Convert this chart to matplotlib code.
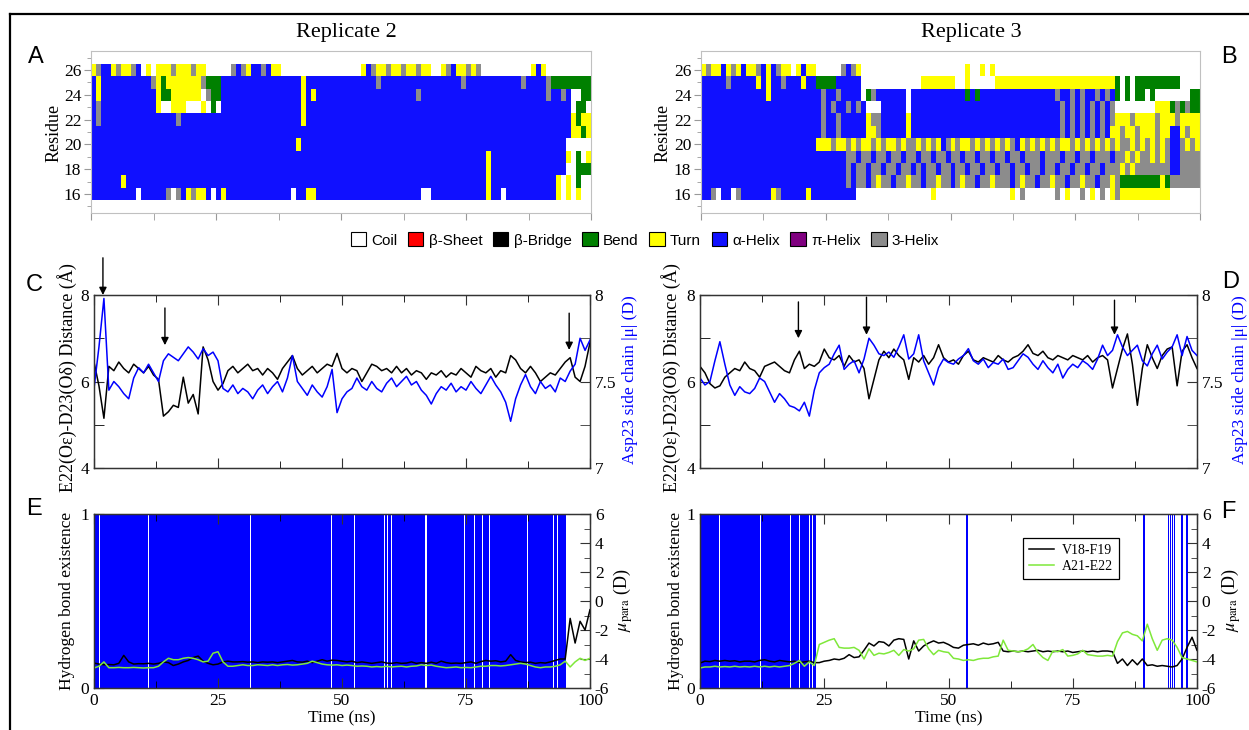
import numpy as np
import matplotlib
matplotlib.use('Agg')
import matplotlib.pyplot as plt
from matplotlib.colors import ListedColormap
from matplotlib.patches import Patch
from matplotlib.lines import Line2D
from matplotlib.ticker import MultipleLocator, FixedLocator, FormatStrFormatter

plt.rcParams['font.family'] = ['Liberation Serif', 'DejaVu Serif']
plt.rcParams['mathtext.fontset'] = 'stix'
plt.rcParams['axes.unicode_minus'] = False

# ---------------- DSSP data (one char per 1 ns, residues 16..26) ----------------
ss_codes = ['C', 'E', 'B', 'S', 'T', 'H', 'I', 'G']
ss_labels = ['Coil', 'β-Sheet', 'β-Bridge', 'Bend', 'Turn', 'α-Helix', 'π-Helix', '3-Helix']
ss_colors = ['#FFFFFF', '#FF0000', '#000000', '#008000', '#FFFF00', '#1010FF', '#800080', '#8C8C8C']
residues = [16, 17, 18, 19, 20, 21, 22, 23, 24, 25, 26]

rep2_ss = {
    26: "TGHHTGTTGH CTCTTTGTTT GTTCCCCCGH GTHHGHTTCC CCCCCCCCCC CCCCTHGTTG TTGTTGTTCC TGHTTGTGCC CCCCCCCCTH TCCCCCCCCC",
    25: "HTHHHHHHHH HHGTSTTTTT TTGSSSHHHH HHHHHHHHHH HHTHHHHHHH HHHHHHHGHH HHHHHHHHHH HHHHGHHHHH HHHHHHGHHH HGSSSSSSSS",
    24: "HTHHHHHHHH HHHTSSTTTT TTCGSSHHHH HHHHHHHHHH HHTHTHHHHH HHHHHHHHHH HHHHHGHHHH HHHHHHHHHH HHHHHHHHHH HGHHGHCCSS",
    23: "HGHHHHHHHH HHHTCCTTTC CCTCSCHHHH HHHHHHHHHH HHTHHHHHHH HHHHHHHHHH HHHHHHHHHH HHHHHHHHHH HHHHHHHHHH HHHHHHCSSC",
    22: "HGHHHHHHHH HHHHHHHGHH HHHHHHHHHH HHHHHHHHHH HHTHHHHHHH HHHHHHHHHH HHHHHHHHHH HHHHHHHHHH HHHHHHHHHH HHHHHHTSTT",
    21: "HHHHHHHHHH HHHHHHHHHH HHHHHHHHHH HHHHHHHHHH HHHHHHHHHH HHHHHHHHHH HHHHHHHHHH HHHHHHHHHH HHHHHHHHHH HHHHHHTTST",
    20: "HHHHHHHHHH HHHHHHHHHH HHHHHHHHHH HHHHHHHHHH HTHHHHHHHH HHHHHHHHHH HHHHHHHHHH HHHHHHHHHH HHHHHHHHHH HHHHHCCCCC",
    19: "HHHHHHHHHH HHHHHHHHHH HHHHHHHHHH HHHHHHHHHH HHHHHHHHHH HHHHHHHHHH HHHHHHHHHH HHHHHHHHHT HHHHHHHHHH HHHHHTCSCT",
    18: "HHHHHHHHHH HHHHHHHHHH HHHHHHHHHH HHHHHHHHHH HHHHHHHHHH HHHHHHHHHH HHHHHHHHHH HHHHHHHHHT HHHHHHHHHH HHHHHCCSSS",
    17: "HHHHHHTHHH HHHHHHHHHH HHHHHHHHHH HHHHHHHHHH HHHHHHHHHH HHHHHHHHHH HHHHHHHHHH HHHHHHHHHT HHHHHHHHHH HHHTCTCSCC",
    16: "HHHHHHHHHC HHHHHGCGHT GTTHCHTHHH HHHHHHHHHH CHHTTHHHHH HHHHHHHHHH HHHHHHCCHH HHHHHHHHHT HHCHHHHHHH HHHTCTCTCC",
}
rep3_ss = {
    26: "TGTTHTGTHT TGHTHGTTCT HTTCCCCCGH GTCCCCCCCC CCCCCCCCCC CCCTCCTCTC CCCCCCCCCC CCCCCCCCCC CCCCCCCCCC CCCCCCCCCC",
    25: "HHHHHGHHHH HTHTHHGHHH THHSSSSHHH HHCCCCCCCC CCCCTTTTTT TCCTCCCCCT TTTTTTTTTT TTTTTTTTTT TTTSCSCSSS SSSSSSCCCC",
    24: "HHHHHHHHHH HHHTHHHHHH HHHHGHHGHH HHCSGHHHHH HCHHHHHHHH HHHSHSHHHH HHHHHHHHHH HGHHGHGHHG HGHSCSCSSC SCCCCCCCSS",
    23: "HHHHHHHHHH HHHHHHHHHH HHHHGHGHHG HGHCCCHHHH HCHHHHHHHH HHHHHHHHHH HHHHHHHHHH HHGHGHGHGH GHGCCCCCCC CTTTSGSGSS",
    22: "HHHHHHHHHH HHHHHHHHHH HHHHGHHGHH HHHTGGHHHH HTHHHHHHHH HHHHHHHHHH HHHHHHHHHH HHGHGHGHGH GHGTTTGTTT TGTTTGTTTT",
    21: "HHHHHHHHHH HHHHHHHHHH HHHHGHHGHH HHHTTGHHHH HTHHHHHHHH HHHHHHHHHH HHHHHHHHHH HHGHGHGHGH GHTTGTTGTT TGTTHHTGTT",
    20: "HHHHHHHHHH HHHHHHHHHH HHHTTTGTTG TGTTGTGTTG TGGTGTGTHG TGTTGTGTGT GTGHTGTGTG TGTTGTGTGT GTGTGGTGTG TGTGHHGTGT",
    19: "HHHHHHHHHH HHHHHHHHHH HHHHHHHHHG GHGGHGGHGG HGGHGGHGGH GGHGGHGGHG GHGGHGGGHG GGHGGHGGHG GGHGGTGTGG TGTGHHGGGG",
    18: "HHHHHHHHHH HHHHHHHHHH HHHHHHHHHG HGGHGGHGGH GGHGHGGHGG HGGHGGHGGH GGHGGHGGHG GHGGHGGHGG HGGGTGTGGG GGGGHHGGGG",
    17: "HHHHHHHHHH HHHHHHHHHH HHHHHHHHHG HGGHGTGGHG GTGGHGGTGG HGTGGHGGTG GGHGTGGHGG TGGHGGTGGH GGTGSSSSSS SSTSGGGGGG",
    16: "HHGCHHCGHH HHHHTGHHHH HTHHHHHHHH HCCCCCCCCC CCCCCCTCCC CCCCCCCCCC CCTCGCCCCC CGCTCCGCTC GCTGTTTTTT TTTTCCCCCC",
}

# ---------------- time series (1 ns sampling) ----------------
time_ns = np.arange(0, 101)

c_dist = [6.45, 5.9, 5.15, 6.35, 6.25, 6.45, 6.3, 6.2, 6.4, 6.3,
          6.2, 6.35, 6.15, 6.05, 5.2, 5.3, 5.45, 5.4, 6.1, 5.5,
          5.7, 5.25, 6.8, 6.5, 6.0, 5.8, 5.95, 6.25, 6.35, 6.2,
          6.3, 6.4, 6.25, 6.3, 6.15, 6.3, 6.2, 6.05, 6.3, 6.45,
          6.6, 6.3, 6.15, 6.25, 6.35, 6.2, 6.3, 6.4, 6.35, 6.65,
          6.3, 6.2, 6.3, 6.25, 6.0, 6.2, 6.4, 6.35, 6.25, 6.3,
          6.2, 6.35, 6.2, 6.3, 6.15, 6.25, 6.2, 6.05, 6.2, 6.15,
          6.25, 6.1, 6.2, 6.15, 6.3, 6.2, 6.1, 6.35, 6.25, 6.2,
          6.3, 6.1, 6.25, 6.2, 6.6, 6.5, 6.3, 6.2, 6.35, 6.2,
          6.0, 6.1, 6.2, 6.15, 6.3, 6.45, 6.55, 6.1, 6.0, 6.35, 6.9]
c_mu = [7.46, 7.7, 7.98, 7.45, 7.5, 7.47, 7.43, 7.4, 7.52, 7.58,
        7.55, 7.6, 7.55, 7.5, 7.62, 7.66, 7.64, 7.62, 7.66, 7.7,
        7.67, 7.63, 7.69, 7.65, 7.67, 7.62, 7.46, 7.44, 7.48, 7.43,
        7.46, 7.44, 7.4, 7.45, 7.48, 7.43, 7.47, 7.5, 7.44, 7.52,
        7.65, 7.5, 7.46, 7.42, 7.48, 7.44, 7.41, 7.47, 7.57, 7.32,
        7.4, 7.44, 7.46, 7.52, 7.47, 7.45, 7.5, 7.46, 7.44, 7.49,
        7.52, 7.47, 7.5, 7.53, 7.48, 7.5, 7.45, 7.42, 7.37, 7.43,
        7.47, 7.45, 7.49, 7.44, 7.47, 7.45, 7.5, 7.46, 7.43, 7.48,
        7.53, 7.48, 7.44, 7.38, 7.27, 7.4, 7.48, 7.54, 7.47, 7.43,
        7.5, 7.46, 7.48, 7.44, 7.52, 7.5, 7.56, 7.6, 7.75, 7.68, 7.74]
d_dist = [6.35, 6.2, 5.95, 5.85, 5.9, 6.1, 6.2, 6.3, 6.25, 6.45,
          6.3, 6.25, 6.1, 6.35, 6.4, 6.45, 6.35, 6.25, 6.2, 6.5,
          6.7, 6.3, 6.4, 6.35, 6.45, 6.75, 6.55, 6.5, 6.6, 6.35,
          6.6, 6.45, 6.5, 6.3, 5.6, 6.05, 6.5, 6.7, 6.55, 6.75,
          6.6, 6.5, 6.05, 6.55, 6.45, 6.6, 6.4, 6.55, 6.85, 6.55,
          6.45, 6.5, 6.4, 6.6, 6.7, 6.5, 6.45, 6.55, 6.5, 6.45,
          6.6, 6.5, 6.45, 6.55, 6.6, 6.7, 6.85, 6.65, 6.6, 6.7,
          6.55, 6.5, 6.6, 6.55, 6.5, 6.6, 6.55, 6.5, 6.6, 6.45,
          6.55, 6.6, 6.5, 5.85, 6.3, 6.75, 7.1, 6.4, 5.45, 6.3,
          6.85, 6.55, 6.3, 6.6, 6.75, 6.8, 5.9, 6.7, 6.85, 6.55, 6.3]
d_mu = [7.52, 7.48, 7.5, 7.62, 7.73, 7.6, 7.48, 7.42, 7.47, 7.44,
        7.43, 7.46, 7.52, 7.5, 7.44, 7.38, 7.43, 7.4, 7.36, 7.35,
        7.33, 7.38, 7.3, 7.45, 7.55, 7.58, 7.6, 7.66, 7.71, 7.57,
        7.6, 7.62, 7.55, 7.63, 7.75, 7.71, 7.66, 7.65, 7.67, 7.64,
        7.7, 7.77, 7.63, 7.66, 7.77, 7.62, 7.55, 7.48, 7.58, 7.63,
        7.61, 7.6, 7.63, 7.65, 7.69, 7.62, 7.6, 7.63, 7.58, 7.61,
        7.6, 7.63, 7.57, 7.58, 7.62, 7.66, 7.64, 7.6, 7.57, 7.62,
        7.58, 7.55, 7.6, 7.52, 7.57, 7.6, 7.58, 7.62, 7.6, 7.57,
        7.63, 7.71, 7.65, 7.68, 7.77, 7.7, 7.65, 7.68, 7.71, 7.62,
        7.59, 7.66, 7.71, 7.63, 7.67, 7.7, 7.77, 7.65, 7.76, 7.68, 7.65]
# arrows marking events (time, tip and tail on the distance axis)
c_arrow_t = [1.8, 14.3, 95.8]
c_arrow_tip = [8.0, 6.84, 6.73]
c_arrow_tail = [8.86, 7.7, 7.58]
d_arrow_t = [19.8, 33.5, 83.4]
d_arrow_tip = [7.0, 7.08, 7.08]
d_arrow_tail = [7.84, 7.95, 7.88]

e_v18f19 = [-4.28, -4.35, -4.4, -4.38, -4.4, -4.3, -3.75, -4.2, -4.35, -4.32,
            -4.33, -4.3, -4.35, -4.3, -4.2, -4.25, -4.45, -4.35, -4.2, -4.1,
            -3.9, -3.8, -4.15, -4.3, -4.4, -4.35, -4.2, -4.15, -4.2, -4.2,
            -4.18, -4.22, -4.2, -4.25, -4.2, -4.22, -4.2, -4.25, -4.2, -4.15,
            -4.1, -4.2, -4.22, -4.15, -4.25, -4.15, -4.05, -4.15, -4.08, -4.1,
            -4.15, -4.2, -4.15, -4.25, -4.2, -4.25, -4.3, -4.25, -4.2, -4.28,
            -4.3, -4.25, -4.3, -4.28, -4.2, -4.3, -4.25, -4.3, -4.22, -4.3,
            -4.15, -4.25, -4.3, -4.28, -4.3, -4.25, -4.2, -4.3, -4.18, -4.1,
            -4.15, -4.12, -4.2, -4.15, -3.7, -4.1, -4.2, -4.25, -4.22, -4.3,
            -4.25, -4.28, -4.2, -4.1, -4.0, -4.0, -1.2, -2.9, -1.4, -2.0, -0.6]
e_a21e22 = [-4.62, -4.5, -4.2, -4.6, -4.6, -4.58, -4.6, -4.6, -4.58, -4.6,
            -4.62, -4.6, -4.6, -4.5, -4.2, -3.95, -4.05, -4.05, -3.95, -3.9,
            -3.95, -4.05, -4.2, -4.15, -3.6, -3.5, -4.2, -4.5, -4.5, -4.45,
            -4.4, -4.45, -4.45, -4.4, -4.42, -4.45, -4.4, -4.45, -4.4, -4.38,
            -4.42, -4.4, -4.35, -4.3, -4.15, -4.25, -4.35, -4.4, -4.42, -4.4,
            -4.45, -4.42, -4.45, -4.5, -4.48, -4.5, -4.55, -4.52, -4.55, -4.5,
            -4.55, -4.52, -4.5, -4.55, -4.5, -4.48, -4.4, -4.45, -4.42, -4.5,
            -4.55, -4.6, -4.58, -4.55, -4.6, -4.58, -4.6, -4.55, -4.5, -4.5,
            -4.45, -4.45, -4.48, -4.45, -4.4, -4.35, -4.3, -4.35, -4.45, -4.55,
            -4.6, -4.55, -4.55, -4.5, -4.4, -4.15, -4.55, -4.2, -3.95, -4.1, -3.95]
f_v18f19 = [-4.28, -4.15, -4.18, -4.1, -4.15, -4.1, -4.15, -4.12, -4.2, -4.15,
            -4.15, -4.2, -4.1, -4.05, -4.15, -4.2, -4.1, -4.15, -4.2, -4.15,
            -4.25, -4.2, -4.15, -4.25, -4.25, -4.15, -4.1, -4.0, -4.05, -3.95,
            -3.7, -3.9, -3.85, -3.4, -2.9, -3.1, -2.8, -2.85, -3.1, -2.7,
            -2.6, -2.65, -4.0, -2.75, -3.45, -3.1, -2.9, -2.75, -2.9, -2.85,
            -3.0, -3.2, -3.25, -3.05, -3.0, -2.95, -3.05, -2.9, -3.0, -2.95,
            -2.85, -3.45, -3.5, -3.45, -3.5, -3.45, -3.5, -3.45, -3.4, -3.5,
            -3.45, -3.5, -3.45, -3.5, -3.45, -3.55, -3.5, -3.45, -3.5, -3.45,
            -3.5, -3.45, -3.45, -3.5, -4.3, -4.0, -4.45, -4.05, -4.4, -4.0,
            -4.45, -4.4, -4.5, -4.45, -4.5, -4.55, -4.45, -4.0, -3.2, -2.5, -3.4]
f_a21e22 = [-4.62, -4.55, -4.55, -4.5, -4.55, -4.52, -4.55, -4.5, -4.55, -4.52,
            -4.55, -4.5, -4.55, -4.5, -4.55, -4.5, -4.55, -4.5, -4.45, -4.3,
            -4.1, -4.5, -4.2, -4.45, -3.0, -2.85, -2.7, -2.6, -3.2, -3.25,
            -3.25, -3.2, -3.4, -4.0, -3.3, -3.75, -3.6, -3.65, -3.55, -3.4,
            -3.75, -3.35, -3.45, -3.3, -2.7, -2.65, -3.3, -3.7, -3.4, -3.5,
            -3.55, -3.95, -4.0, -4.1, -4.05, -4.1, -4.0, -3.95, -3.95, -3.85,
            -3.8, -2.7, -3.4, -3.45, -3.5, -3.45, -3.3, -3.0, -3.55, -3.9,
            -4.1, -3.45, -3.5, -3.35, -3.8, -3.75, -3.65, -3.4, -3.7, -3.75,
            -3.8, -3.8, -3.75, -3.8, -2.8, -2.2, -2.1, -2.3, -2.4, -2.75,
            -1.6, -2.6, -3.4, -2.7, -2.6, -2.7, -3.2, -3.9, -4.0, -4.1, -4.2]

# H-bond existence intervals (ns)
e_hb_start = [0.0, 1.2, 11.0, 13.75, 31.65, 47.9, 52.55, 58.6, 59.25, 60.1,
              65.55, 67.05, 74.8, 76.75, 78.5, 79.9, 87.5, 92.65, 93.45]
e_hb_end = [1.0, 10.85, 13.65, 31.55, 47.7, 52.45, 58.4, 59.15, 59.95, 65.45,
            66.75, 74.6, 76.65, 78.3, 79.7, 87.3, 92.55, 93.35, 95.2]
f_hb_start = [0.0, 4.0, 12.2, 16.3, 18.3, 20.2, 22.1, 22.7, 53.6, 89.15,
              94.1, 94.5, 94.9, 95.3, 96.85, 97.85]
f_hb_end = [3.9, 12.1, 16.2, 18.2, 19.9, 21.95, 22.55, 23.4, 54.0, 89.5,
            94.35, 94.75, 95.15, 95.65, 97.15, 98.15]

# ---------------- figure ----------------
W, H = 1249, 730
fig = plt.figure(figsize=(W / 100, H / 100), dpi=100)


def box(l, t, r, b):
    return [l / W, 1 - b / H, (r - l) / W, (b - t) / H]


def ftext(x, y, s, **kw):
    fig.text(x / W, 1 - y / H, s, **kw)


cmap = ListedColormap(ss_colors)
SANS = ['Liberation Sans', 'DejaVu Sans']


def draw_dssp(rect, data):
    ax = fig.add_axes(box(*rect))
    grid = []
    for r in residues:
        s = data[r].replace(' ', '')
        s = (s + 'C' * 100)[:100]
        grid.append([ss_codes.index(ch) for ch in s])
    grid = np.array(grid)
    t_edges = np.arange(0, grid.shape[1] + 1)
    r_edges = np.arange(residues[0] - 0.5, residues[-1] + 1.0, 1.0)
    ax.pcolormesh(t_edges, r_edges, grid, cmap=cmap, vmin=-0.5, vmax=7.5,
                  shading='flat', linewidth=0, antialiased=False)
    ax.set_xlim(0, 100)
    ax.set_ylim(14.47, 27.53)
    ax.xaxis.set_major_locator(MultipleLocator(25))
    ax.xaxis.set_minor_locator(MultipleLocator(12.5))
    ax.set_xticklabels([])
    ax.yaxis.set_major_locator(FixedLocator([16, 18, 20, 22, 24, 26]))
    ax.yaxis.set_minor_locator(FixedLocator([15, 17, 19, 21, 23, 25, 27]))
    ax.tick_params(which='both', direction='out', color='#999999', labelsize=12.5)
    ax.tick_params(axis='y', which='major', length=5, pad=2)
    ax.tick_params(axis='y', which='minor', length=3)
    ax.tick_params(axis='x', which='both', length=5)
    for sp in ax.spines.values():
        sp.set_color('#c0c0c0')
    return ax


axA = draw_dssp((91, 51, 591, 213), rep2_ss)
axB = draw_dssp((701, 51, 1200, 213), rep3_ss)
ftext(346, 33, 'Replicate 2', ha='center', va='center', fontsize=16)
ftext(971, 33, 'Replicate 3', ha='center', va='center', fontsize=16)
ftext(54, 133, 'Residue', rotation=90, ha='center', va='center', fontsize=13)
ftext(663, 133, 'Residue', rotation=90, ha='center', va='center', fontsize=13)

# legend of secondary structure
handles = [Patch(facecolor=c, edgecolor='black', linewidth=0.8) for c in ss_colors]
fig.legend(handles, ss_labels, loc='center', bbox_to_anchor=(645 / W, 1 - 240 / H),
           ncol=8, frameon=False, handlelength=1.0, handleheight=1.0,
           handletextpad=0.35, columnspacing=0.7,
           prop={'family': SANS, 'size': 11})

SPINE = '#333333'


def style_time_axes(ax, xlabels):
    ax.set_xlim(0, 100)
    ax.xaxis.set_major_locator(MultipleLocator(25))
    ax.xaxis.set_minor_locator(MultipleLocator(12.5))
    ax.tick_params(axis='x', which='both', direction='in', top=True, bottom=True)
    ax.tick_params(axis='x', which='major', length=7)
    ax.tick_params(axis='x', which='minor', length=5)
    ax.tick_params(axis='y', which='both', direction='in', left=True, right=False, length=7)
    ax.tick_params(labelsize=12.5, color=SPINE)
    if xlabels:
        ax.set_xticks([0, 25, 50, 75, 100])
        ax.set_xticklabels(['0', '25', '50', '75', '100'])
    else:
        ax.set_xticklabels([])
    for sp in ax.spines.values():
        sp.set_color(SPINE)
        sp.set_linewidth(1.0)


def draw_distance(rect, dist, mu, arr_t, arr_tip, arr_tail):
    ax = fig.add_axes(box(*rect))
    ax.plot(time_ns, dist, color='black', lw=1.1)
    ax.set_ylim(4, 8)
    ax.set_yticks([4, 6, 8])
    ax.yaxis.set_minor_locator(FixedLocator([5, 7]))
    style_time_axes(ax, False)
    for t, tip, tail in zip(arr_t, arr_tip, arr_tail):
        ax.annotate('', xy=(t, tip), xytext=(t, tail), annotation_clip=False,
                    arrowprops=dict(arrowstyle='-|>', color='black', lw=1.0,
                                    mutation_scale=11, shrinkA=0, shrinkB=0))
    ax2 = ax.twinx()
    ax2.plot(time_ns, mu, color='#0000FF', lw=1.1)
    ax2.set_ylim(7, 8)
    ax2.set_yticks([7, 7.5, 8])
    ax2.yaxis.set_major_formatter(FormatStrFormatter('%g'))
    ax2.yaxis.set_minor_locator(FixedLocator([7.25, 7.75]))
    ax2.tick_params(axis='y', which='both', direction='in', length=7,
                    labelsize=12.5, color=SPINE)
    for sp in ax2.spines.values():
        sp.set_color(SPINE)
    return ax, ax2


def draw_hbond(rect, hb_s, hb_e, v18, a21, legend=False):
    ax = fig.add_axes(box(*rect))
    widths = np.array(hb_e) - np.array(hb_s)
    ax.bar(hb_s, np.ones(len(hb_s)), width=widths, align='edge', color='#0000FF',
           linewidth=0)
    ax.set_ylim(0, 1)
    ax.set_yticks([0, 1])
    style_time_axes(ax, True)
    ax.set_xlabel('Time (ns)', fontsize=12.5, labelpad=1)
    ax2 = ax.twinx()
    l1, = ax2.plot(time_ns, v18, color='black', lw=1.1)
    l2, = ax2.plot(time_ns, a21, color='#7FE83A', lw=1.1)
    ax2.set_ylim(-6, 6)
    ax2.set_yticks(np.arange(-6, 7, 2))
    ax2.yaxis.set_minor_locator(MultipleLocator(1))
    ax2.tick_params(axis='y', which='major', direction='in', length=7,
                    labelsize=12.5, color=SPINE)
    ax2.tick_params(axis='y', which='minor', direction='in', length=4, color=SPINE)
    for sp in ax2.spines.values():
        sp.set_color(SPINE)
    if legend:
        leg = ax2.legend([l1, l2], ['V18-F19', 'A21-E22'], loc='upper left',
                         bbox_to_anchor=(0.65, 0.862), borderaxespad=0,
                         frameon=True, fancybox=False,
                         edgecolor='black', fontsize=10, handlelength=1.8,
                         handletextpad=0.6, borderpad=0.4, labelspacing=0.25,
                         framealpha=1)
        leg.get_frame().set_linewidth(0.9)
    return ax, ax2


draw_distance((94, 295, 590, 468), c_dist, c_mu, c_arrow_t, c_arrow_tip, c_arrow_tail)
draw_distance((700, 295, 1197, 468), d_dist, d_mu, d_arrow_t, d_arrow_tip, d_arrow_tail)
draw_hbond((94, 514, 590, 688), e_hb_start, e_hb_end, e_v18f19, e_a21e22)
draw_hbond((700, 514, 1197, 688), f_hb_start, f_hb_end, f_v18f19, f_a21e22, legend=True)

dist_label = 'E22(Oε)-D23(Oδ) Distance (Å)'
mu_label = 'Asp23 side chain |μ| (D)'
para_label = r'$\mu_{\mathrm{para}}$ (D)'
ftext(67, 378, dist_label, rotation=90, ha='center', va='center', fontsize=13)
ftext(671, 378, dist_label, rotation=90, ha='center', va='center', fontsize=13)
ftext(630, 380, mu_label, rotation=90, ha='center', va='center', fontsize=12.5, color='#0000FF')
ftext(1240, 380, mu_label, rotation=90, ha='center', va='center', fontsize=12.5, color='#0000FF')
ftext(67, 601, 'Hydrogen bond existence', rotation=90, ha='center', va='center', fontsize=12.5)
ftext(676, 601, 'Hydrogen bond existence', rotation=90, ha='center', va='center', fontsize=12.5)
ftext(623, 600, para_label, rotation=90, ha='center', va='center', fontsize=13)
ftext(1231, 600, para_label, rotation=90, ha='center', va='center', fontsize=13)

# panel letters
for letter, x, y in [('A', 36, 57), ('B', 1229, 57), ('C', 34, 285),
                     ('D', 1231, 282), ('E', 34, 509), ('F', 1228, 512)]:
    ftext(x, y, letter, ha='center', va='center', fontsize=17, family=SANS)

# outer frame (left and top edges)
fig.add_artist(Line2D([10 / W, 10 / W], [0, 1 - 14 / H], transform=fig.transFigure,
                      color='black', lw=1.6))
fig.add_artist(Line2D([10 / W, 1.0], [1 - 14 / H, 1 - 14 / H], transform=fig.transFigure,
                      color='black', lw=1.6))

fig.savefig('out.png', dpi=100)
